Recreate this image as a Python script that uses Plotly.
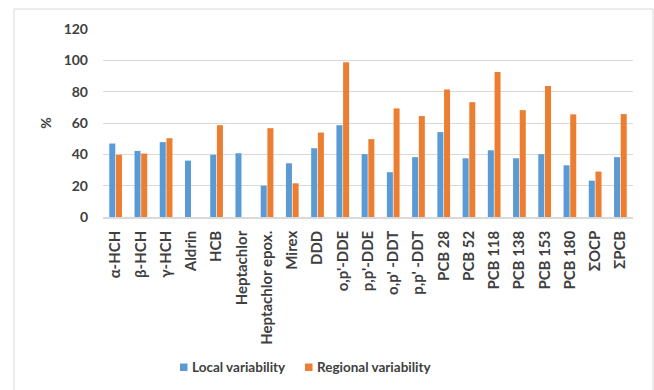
import plotly.graph_objects as go

# Compounds and their variability (%)
compounds = ["α-HCH", "β-HCH", "γ-HCH", "Aldrin", "HCB", "Heptachlor",
             "Heptachlor epox.", "Mirex", "DDD", "o,p'-DDE", "p,p'-DDE",
             "o,p' -DDT", "p,p' -DDT", "PCB 28", "PCB 52", "PCB 118",
             "PCB 138", "PCB 153", "PCB 180", "ΣOCP", "ΣPCB"]
local_var = [46.9, 42.2, 47.8, 36.0, 39.7, 40.7, 20.0, 34.3, 43.9, 58.6, 40.1,
             28.6, 38.2, 54.2, 37.5, 42.6, 37.5, 40.1, 33.0, 23.2, 38.2]
regional_var = [39.7, 40.5, 50.3, None, 58.6, None, 56.7, 21.5, 53.9, 98.7, 49.7,
                69.3, 64.4, 81.4, 73.3, 92.5, 68.2, 83.6, 65.5, 29.0, 65.7]
y_ticks = [0, 20, 40, 60, 80, 100, 120]
series_names = ["Local variability", "Regional variability"]
series_colors = ["#5B9BD5", "#ED7D31"]

FONT = "Lato"
TXT = "#404040"

fig = go.Figure()
for name, vals, col in zip(series_names, [local_var, regional_var], series_colors):
    fig.add_trace(go.Bar(x=compounds, y=vals, name=name,
                         marker=dict(color=col, line=dict(width=0))))

W, H = 654, 390
L, R, T, B = 103, 21, 29, 173
pw, ph = W - L - R, H - T - B

def px_x(x):
    return (x - L) / pw

def px_y(y):
    return (H - B - y) / ph

# Legend drawn as small squares with labels below the chart
legend_shapes = []
legend_notes = []
legend_pos = [180, 305]
for name, col, x0 in zip(series_names, series_colors, legend_pos):
    legend_shapes.append(dict(type="rect", xref="paper", yref="paper",
                              x0=px_x(x0), x1=px_x(x0 + 7.5),
                              y0=px_y(371), y1=px_y(363.5),
                              fillcolor=col, line=dict(width=0)))
    legend_notes.append(dict(xref="paper", yref="paper", x=px_x(x0 + 10),
                             y=px_y(367), xanchor="left", yanchor="middle",
                             text=name, showarrow=False,
                             font=dict(family=FONT, size=13.5, color=TXT,
                                       weight="bold")))

frame = dict(type="rect", xref="paper", yref="paper",
             x0=px_x(14), x1=px_x(653), y0=px_y(400), y1=px_y(9),
             line=dict(color="#d9d9d9", width=1), fillcolor="rgba(0,0,0,0)",
             layer="below")

fig.update_layout(
    width=W, height=H,
    margin=dict(l=L, r=R, t=T, b=B, pad=0),
    paper_bgcolor="white", plot_bgcolor="white",
    barmode="group", bargap=0.47, bargroupgap=0.1,
    font=dict(family=FONT, color=TXT, size=13),
    showlegend=False,
    xaxis=dict(tickangle=-90, showgrid=False, showline=True,
               linecolor="#d9d9d9", linewidth=1.5, ticks="",
               ticklabelstandoff=6,
               tickfont=dict(family=FONT, size=15, color=TXT, weight="bold")),
    yaxis=dict(range=[0, 120], tickvals=y_ticks, showgrid=True,
               gridcolor="#d9d9d9", gridwidth=1, zeroline=False,
               showline=False, ticks="", ticklabelstandoff=14,
               tickfont=dict(family=FONT, size=14, color=TXT, weight="bold"),
               title=dict(text="%", standoff=8,
                          font=dict(family=FONT, size=14, color=TXT, weight="bold"))),
    shapes=[frame] + legend_shapes,
    annotations=legend_notes,
)

fig.write_html("out.html")
